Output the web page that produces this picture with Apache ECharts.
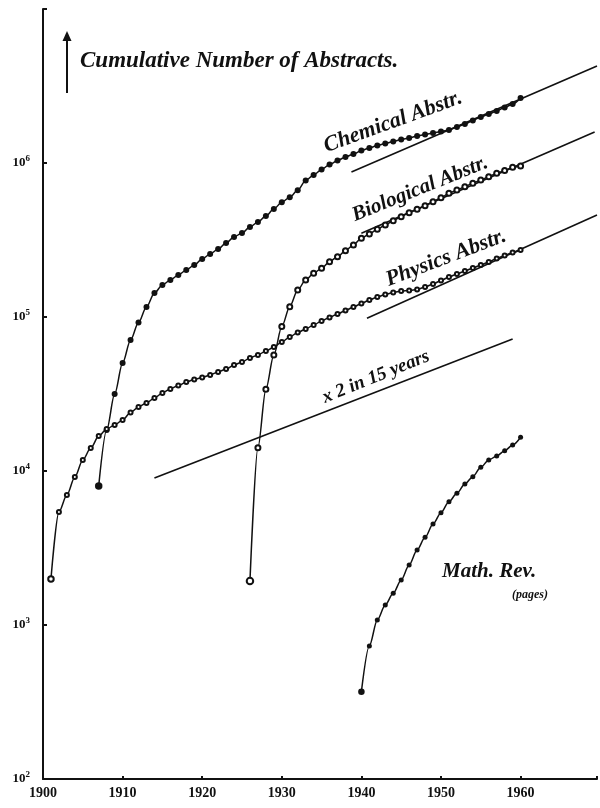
<!DOCTYPE html>
<html><head><meta charset="utf-8">
<script src="https://cdn.jsdelivr.net/npm/echarts@6/dist/echarts.min.js"></script>
<style>html,body{margin:0;padding:0;background:#fff}#c{width:600px;height:808px}</style>
</head><body><div id="c"></div>
<script>
// ---- data ----
const chemStart = 1907;
const chemValues = [8000, 18450, 31600, 50200, 70900, 92100, 116100, 143200, 161400, 173900,
  187500, 202000, 217700, 238300, 256600, 276600, 302700, 330700, 351000, 383900,
  413900, 452700, 502400, 556000, 600000, 665000, 769000, 835000, 907000, 977000,
  1038000, 1094000, 1143000, 1205000, 1251000, 1299000, 1339000, 1380000, 1422000, 1453000,
  1497000, 1531000, 1566000, 1602000, 1638000, 1714000, 1792000, 1888000, 1990000, 2081000,
  2177000, 2294000, 2415000, 2643000];
const bioStart = 1926;
const bioValues = [1930, 14150, 34000, 56600, 86700, 116700, 149700, 173900, 192200, 207200,
  228700, 246400, 269700, 293700, 324600, 346200, 370900, 395600, 421800, 447900,
  475500, 500100, 528100, 560800, 595500, 635900, 668300, 702300, 738500, 776100,
  815600, 857200, 892500, 938000, 956800];
const physStart = 1901;
const physValues = [1990, 5420, 6980, 9140, 11780, 14090, 16860, 18740, 19900, 21440,
  23990, 26050, 27660, 29800, 32100, 34100, 35900, 37800, 39300, 40500,
  42000, 44000, 45900, 48800, 51000, 54200, 56700, 60100, 63800, 68900,
  74200, 79300, 83600, 88700, 94200, 99300, 104600, 110200, 116100, 122400,
  128900, 134800, 140000, 144200, 147500, 148600, 150900, 156600, 163800, 172600,
  181900, 190200, 199000, 208000, 217700, 227600, 239900, 250800, 262400, 272300];
const mathStart = 1940;
const mathValues = [369, 731, 1077, 1348, 1606, 1960, 2453, 3071, 3709, 4527,
  5360, 6318, 7164, 8236, 9187, 10570, 11790, 12510, 13540, 14740, 16550];
const chemTrend = [[1938.75, 875000], [1969.6, 4270000]];
const bioTrend = [[1940.0, 350000], [1969.3, 1590000]];
const physTrend = [[1940.7, 98000], [1969.6, 459000]];
const doublingLine = [[1914, 9000], [1959, 72000]];
const xTickYears = [1900, 1910, 1920, 1930, 1940, 1950, 1960];
const yTickExponents = {100: 2, 1000: 3, 10000: 4, 100000: 5, 1000000: 6};

function pairs(start, vals) { return vals.map((v, i) => [start + i, v]); }

const FONT = "'Liberation Serif', 'DejaVu Serif', serif";
const chart = echarts.init(document.getElementById('c'), null, {renderer: 'canvas'});

function curve(name, start, vals, symbol, size, border) {
  return {
    name, type: 'line', data: pairs(start, vals), smooth: 0.3, smoothMonotone: 'x',
    symbol, showAllSymbol: true,
    symbolSize: (v, p) => p.dataIndex === 0 ? size + 1.5 : size,
    lineStyle: {color: '#111', width: 1.5},
    itemStyle: {color: '#111', borderColor: '#111', borderWidth: border},
    z: 3, silent: true
  };
}
function straight(name, d) {
  return {name, type: 'line', data: d, symbol: 'none', lineStyle: {color: '#111', width: 1.6}, z: 2, silent: true};
}

chart.setOption({
  animation: false,
  backgroundColor: '#fff',
  grid: {left: 43, right: 0, top: 9, bottom: 29, containLabel: false},
  xAxis: {
    type: 'value', min: 1900, max: 1969.6, interval: 10,
    axisLine: {lineStyle: {color: '#111', width: 2}},
    axisTick: {inside: true, length: 3, lineStyle: {color: '#111', width: 2}},
    splitLine: {show: false},
    axisLabel: {
      color: '#111', fontFamily: FONT, fontWeight: 'bold', fontSize: 14, margin: 7,
      formatter: v => xTickYears.indexOf(v) >= 0 ? String(v) : ''
    }
  },
  yAxis: {
    type: 'log', logBase: 10, min: 100, max: 10000000,
    axisLine: {show: true, lineStyle: {color: '#111', width: 2}},
    axisTick: {show: true, inside: true, length: 4, lineStyle: {color: '#111', width: 2}},
    splitLine: {show: false},
    axisLabel: {
      margin: 13,
      formatter: v => {
        const e = yTickExponents[Math.round(v)];
        return e ? '{b|10}{s|' + e + '}' : '';
      },
      rich: {
        b: {fontFamily: FONT, fontWeight: 'bold', fontSize: 13, color: '#111'},
        s: {fontFamily: FONT, fontWeight: 'bold', fontSize: 9, color: '#111', verticalAlign: 'top', padding: [0, 0, 8, 0]}
      }
    }
  },
  series: [
    straight('chemTrend', chemTrend),
    straight('bioTrend', bioTrend),
    straight('physTrend', physTrend),
    straight('doubling', doublingLine),
    curve('Chemical Abstr.', chemStart, chemValues, 'circle', 6, 0),
    curve('Biological Abstr.', bioStart, bioValues, 'emptyCircle', 5, 1.1),
    curve('Physics Abstr.', physStart, physValues, 'emptyCircle', 4, 1.6),
    curve('Math. Rev.', mathStart, mathValues, 'circle', 5, 0)
  ],
  graphic: [
    {type: 'line', shape: {x1: 67, y1: 93, x2: 67, y2: 38}, style: {stroke: '#111', lineWidth: 2}},
    {type: 'polygon', shape: {points: [[62.5, 41], [67, 31], [71.5, 41]]}, style: {fill: '#111'}},
    {type: 'text', x: 80, y: 61, style: {text: 'Cumulative Number of Abstracts.', font: 'italic bold 23px ' + FONT, fill: '#111', textVerticalAlign: 'middle'}},
    {type: 'text', x: 393, y: 122, rotation: 20 * Math.PI / 180, style: {text: 'Chemical Abstr.', font: 'italic bold 22px ' + FONT, fill: '#111', textAlign: 'center', textVerticalAlign: 'middle'}},
    {type: 'text', x: 420, y: 189, rotation: 22 * Math.PI / 180, style: {text: 'Biological Abstr.', font: 'italic bold 21px ' + FONT, fill: '#111', textAlign: 'center', textVerticalAlign: 'middle'}},
    {type: 'text', x: 446, y: 258, rotation: 21 * Math.PI / 180, style: {text: 'Physics Abstr.', font: 'italic bold 22px ' + FONT, fill: '#111', textAlign: 'center', textVerticalAlign: 'middle'}},
    {type: 'text', x: 376, y: 377, rotation: 22 * Math.PI / 180, style: {text: 'x 2 in 15 years', font: 'italic bold 19px ' + FONT, fill: '#111', textAlign: 'center', textVerticalAlign: 'middle'}},
    {type: 'text', x: 442, y: 572, style: {text: 'Math. Rev.', font: 'italic bold 21px ' + FONT, fill: '#111', textVerticalAlign: 'middle'}},
    {type: 'text', x: 512, y: 595, style: {text: '(pages)', font: 'italic bold 12px ' + FONT, fill: '#111', textVerticalAlign: 'middle'}}
  ]
});
</script>
</body></html>
